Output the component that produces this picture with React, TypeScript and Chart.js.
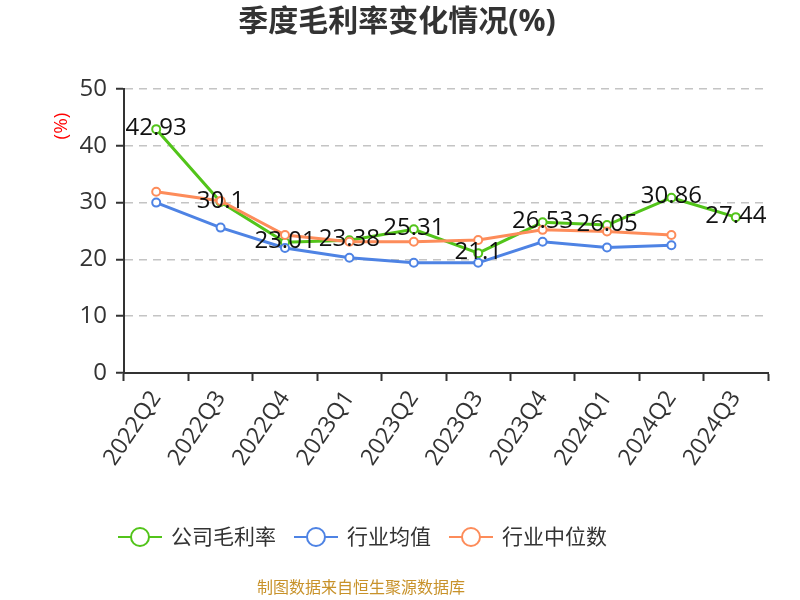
import React, { useEffect, useRef } from "react";
import { Chart, registerables } from "chart.js";

Chart.register(...registerables);

const TITLE = "季度毛利率变化情况(%)";
const SOURCE = "制图数据来自恒生聚源数据库";
const Y_TITLE = "(%)";

const categories = ["2022Q2", "2022Q3", "2022Q4", "2023Q1", "2023Q2", "2023Q3", "2023Q4", "2024Q1", "2024Q2", "2024Q3"];
const companyMargin = [42.93, 30.1, 23.01, 23.38, 25.31, 21.1, 26.53, 26.05, 30.86, 27.44];
const industryMean = [30.0, 25.6, 22.0, 20.3, 19.4, 19.4, 23.1, 22.1, 22.5, null];
const industryMedian = [31.9, 30.3, 24.3, 23.1, 23.1, 23.4, 25.2, 24.9, 24.3, null];
const seriesNames = ["公司毛利率", "行业均值", "行业中位数"];
const seriesColors = ["#52c41a", "#4e83e4", "#fd8c5a"];
const yMin = 0;
const yMax = 50;
const yStep = 10;

const FONT = '"Open Sans", "Noto Sans CJK SC", sans-serif';

const decorPlugin = {
  id: "decor",
  afterDatasetsDraw(chart: any) {
    const ctx = chart.ctx;
    const meta = chart.getDatasetMeta(0);
    ctx.save();
    ctx.font = `24px ${FONT}`;
    ctx.fillStyle = "#111";
    ctx.textAlign = "center";
    ctx.textBaseline = "alphabetic";
    meta.data.forEach((pt: any, i: number) => {
      const v = companyMargin[i];
      if (v == null) return;
      ctx.fillText(String(v), pt.x, pt.y + 5.5);
    });
    ctx.restore();
  },
  afterDraw(chart: any) {
    const ctx = chart.ctx;
    // title
    ctx.save();
    ctx.font = `bold 30px ${FONT}`;
    ctx.fillStyle = "#333";
    ctx.textAlign = "center";
    ctx.textBaseline = "middle";
    ctx.fillText(TITLE, 397, 22);
    ctx.restore();

    // y-axis unit title
    ctx.save();
    ctx.translate(62, 126);
    ctx.rotate(-Math.PI / 2);
    ctx.font = `19px ${FONT}`;
    ctx.fillStyle = "#ff0000";
    ctx.textAlign = "center";
    ctx.textBaseline = "middle";
    ctx.fillText(Y_TITLE, 0, 0);
    ctx.restore();

    // legend
    ctx.save();
    let x = 118;
    const cy = 537;
    ctx.font = `21px ${FONT}`;
    chart.data.datasets.forEach((ds: any) => {
      const color = ds.borderColor;
      ctx.strokeStyle = color;
      ctx.lineWidth = 2;
      ctx.beginPath();
      ctx.moveTo(x, cy);
      ctx.lineTo(x + 44, cy);
      ctx.stroke();
      ctx.beginPath();
      ctx.arc(x + 22, cy, 9, 0, Math.PI * 2);
      ctx.fillStyle = "#fff";
      ctx.fill();
      ctx.stroke();
      ctx.fillStyle = "#333";
      ctx.textAlign = "left";
      ctx.textBaseline = "middle";
      ctx.fillText(ds.label, x + 53, cy + 1);
      x += 53 + ctx.measureText(ds.label).width + 18;
    });
    ctx.restore();

    // source
    ctx.save();
    ctx.font = `16px ${FONT}`;
    ctx.fillStyle = "#c8922a";
    ctx.textAlign = "center";
    ctx.textBaseline = "middle";
    ctx.fillText(SOURCE, 361, 588);
    ctx.restore();
  },
};

export default function App() {
  const ref = useRef<HTMLCanvasElement | null>(null);
  useEffect(() => {
    if (!ref.current) return;
    const series = [companyMargin, industryMean, industryMedian];
    const chart = new Chart(ref.current, {
      type: "line",
      data: {
        labels: categories,
        datasets: series.map((d, i) => ({
          label: seriesNames[i],
          data: d,
          borderColor: seriesColors[i],
          backgroundColor: seriesColors[i],
          borderWidth: 3,
          pointRadius: 4,
          pointBorderWidth: 2,
          pointBackgroundColor: "#fff",
          pointBorderColor: seriesColors[i],
          tension: 0,
          spanGaps: false,
          order: 3 - i,
        })),
      },
      options: {
        animation: false,
        responsive: false,
        layout: { padding: { left: 0, right: 32, top: 89, bottom: 0 } },
        plugins: {
          legend: { display: false },
          tooltip: { enabled: false },
          title: { display: false },
        },
        scales: {
          x: {
            type: "category",
            offset: true,
            grid: {
              display: true,
              drawOnChartArea: false,
              drawTicks: true,
              tickLength: 8,
              tickColor: "#333",
              tickWidth: 2,
              offset: true,
            },
            border: { display: true, color: "#333", width: 2 },
            ticks: {
              font: { size: 23, family: FONT },
              color: "#333",
              maxRotation: 56,
              minRotation: 56,
              padding: 5,
              autoSkip: false,
            },
            afterFit: (s: any) => {
              s.height = 227;
            },
          },
          y: {
            min: yMin,
            max: yMax,
            ticks: {
              stepSize: yStep,
              font: { size: 24, family: FONT },
              color: "#333",
              padding: 9,
            },
            grid: {
              color: "#c4c4c4",
              lineWidth: 1.5,
              tickColor: "#333",
              tickWidth: 2,
              tickLength: 8,
              tickBorderDash: [],
            },
            border: { display: true, color: "#333", width: 2, dash: [8, 6] },
            afterFit: (s: any) => {
              s.width = 124;
            },
          },
        },
      } as any,
      plugins: [decorPlugin],
    });
    return () => chart.destroy();
  }, []);
  return (
    <div style={{ position: "fixed", left: 0, top: 0, width: 800, height: 600, background: "#fff" }}>
      <canvas ref={ref} width={800} height={600} style={{ display: "block" }} />
    </div>
  );
}
